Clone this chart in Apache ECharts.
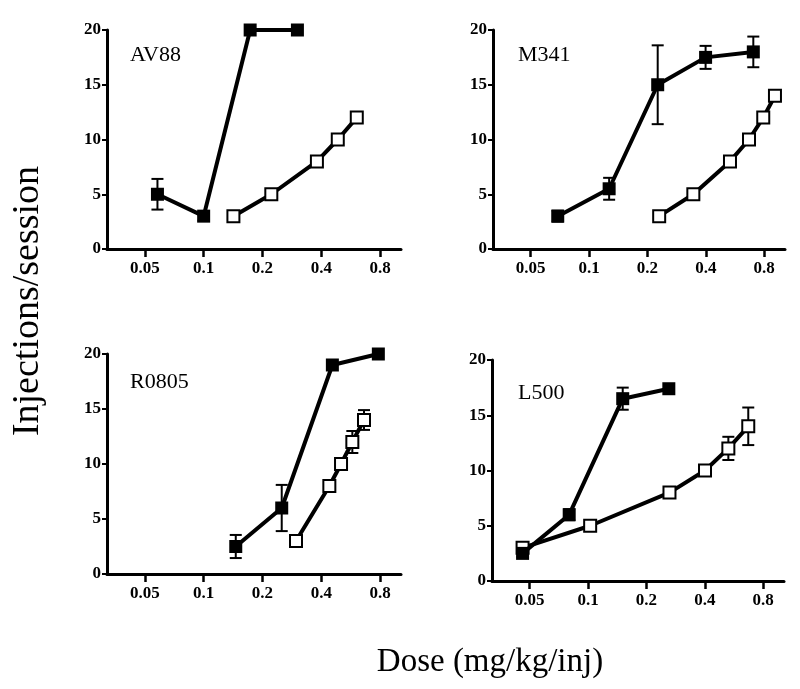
<!DOCTYPE html>
<html>
<head>
<meta charset="utf-8">
<script src="https://cdn.jsdelivr.net/npm/echarts@6/dist/echarts.min.js"></script>
<style>html,body{margin:0;padding:0;background:#fff}#c{width:800px;height:689px}</style>
</head>
<body>
<div id="c"></div>
<script>
// ---- data (dose in mg/kg/inj, injections/session, SEM) ----
const doseTicks = [0.05, 0.1, 0.2, 0.4, 0.8];
const injTicksMax = 20;

const av88FilledDose = [0.058, 0.1, 0.173, 0.302];
const av88FilledInj  = [5, 3, 20, 20];
const av88FilledSem  = [1.4, 0.4, 0, 0];
const av88OpenDose   = [0.142, 0.222, 0.38, 0.486, 0.608];
const av88OpenInj    = [3, 5, 8, 10, 12];
const av88OpenSem    = [0, 0, 0, 0, 0];

const m341FilledDose = [0.069, 0.127, 0.226, 0.399, 0.703];
const m341FilledInj  = [3, 5.5, 15, 17.5, 18];
const m341FilledSem  = [0.5, 1.0, 3.6, 1.05, 1.4];
const m341OpenDose   = [0.23, 0.345, 0.533, 0.668, 0.791, 0.909];
const m341OpenInj    = [3, 5, 8, 10, 12, 14];
const m341OpenSem    = [0, 0, 0, 0, 0, 0];

const r0805FilledDose = [0.146, 0.251, 0.456, 0.784];
const r0805FilledInj  = [2.5, 6, 19, 20];
const r0805FilledSem  = [1.05, 2.1, 0, 0];
const r0805OpenDose   = [0.297, 0.44, 0.505, 0.577, 0.662];
const r0805OpenInj    = [3, 8, 10, 12, 14];
const r0805OpenSem    = [0, 0, 0, 1.0, 0.9];

const l500FilledDose = [0.046, 0.080, 0.151, 0.261];
const l500FilledInj  = [2.5, 6, 16.5, 17.4];
const l500FilledSem  = [0.3, 0.5, 1.0, 0];
const l500OpenDose   = [0.046, 0.1026, 0.263, 0.401, 0.529, 0.670];
const l500OpenInj    = [3, 5, 8, 10, 12, 14];
const l500OpenSem    = [0, 0, 0.4, 0.5, 1.05, 1.7];

const panelNames = ['AV88', 'M341', 'R0805', 'L500'];

// ---- layout ----
const FONT = 'Liberation Serif, Times New Roman, serif';
const grids = [
  {left: 107, top: 30, width: 294, height: 219},
  {left: 493, top: 30, width: 292, height: 219},
  {left: 107, top: 354, width: 294, height: 220},
  {left: 492, top: 360, width: 292, height: 221}
];
const labelPos = [[130, 44], [518, 44], [130, 371], [518, 382]];

const panels = [
  {fd: av88FilledDose, fi: av88FilledInj, fs: av88FilledSem, od: av88OpenDose, oi: av88OpenInj, os: av88OpenSem},
  {fd: m341FilledDose, fi: m341FilledInj, fs: m341FilledSem, od: m341OpenDose, oi: m341OpenInj, os: m341OpenSem},
  {fd: r0805FilledDose, fi: r0805FilledInj, fs: r0805FilledSem, od: r0805OpenDose, oi: r0805OpenInj, os: r0805OpenSem},
  {fd: l500FilledDose, fi: l500FilledInj, fs: l500FilledSem, od: l500OpenDose, oi: l500OpenInj, os: l500OpenSem}
];

function zip(a, b) { return a.map((v, i) => [v, b[i]]); }
function zip3(a, b, c) { return a.map((v, i) => [v, b[i], c[i]]); }

function errRender(params, api) {
  const x = api.value(0), y = api.value(1), e = api.value(2);
  if (!e) return null;
  const top = api.coord([x, y + e]);
  const bot = api.coord([x, y - e]);
  const hw = 6;
  const st = {stroke: '#000', lineWidth: 2};
  return {type: 'group', children: [
    {type: 'line', shape: {x1: top[0], y1: top[1], x2: bot[0], y2: bot[1]}, style: st},
    {type: 'line', shape: {x1: top[0] - hw, y1: top[1], x2: top[0] + hw, y2: top[1]}, style: st},
    {type: 'line', shape: {x1: bot[0] - hw, y1: bot[1], x2: bot[0] + hw, y2: bot[1]}, style: st}
  ]};
}

const xAxes = [], yAxes = [], series = [], graphics = [];
panels.forEach((p, i) => {
  xAxes.push({
    type: 'log', logBase: 10, gridIndex: i, min: 0.032, max: 1.024,
    axisLine: {show: true, lineStyle: {color: '#000', width: 3}},
    axisTick: {show: true, customValues: doseTicks, length: 8, inside: false, lineStyle: {color: '#000', width: 2.5}},
    axisLabel: {customValues: doseTicks, margin: 11, color: '#000', fontFamily: FONT, fontWeight: 'bold', fontSize: 17,
      formatter: v => String(parseFloat(Number(v).toPrecision(3)))},
    splitLine: {show: false}, minorTick: {show: false}
  });
  yAxes.push({
    type: 'value', gridIndex: i, min: 0, max: injTicksMax, interval: 5,
    axisLine: {show: true, onZero: false, lineStyle: {color: '#000', width: 3}},
    axisTick: {show: true, length: 5, lineStyle: {color: '#000', width: 2}},
    axisLabel: {margin: 6, color: '#000', fontFamily: FONT, fontWeight: 'bold', fontSize: 17},
    splitLine: {show: false}
  });
  series.push({
    type: 'custom', xAxisIndex: i, yAxisIndex: i, z: 1, renderItem: errRender,
    data: zip3(p.fd, p.fi, p.fs), clip: false, silent: true
  });
  series.push({
    type: 'custom', xAxisIndex: i, yAxisIndex: i, z: 1, renderItem: errRender,
    data: zip3(p.od, p.oi, p.os), clip: false, silent: true
  });
  series.push({
    type: 'line', xAxisIndex: i, yAxisIndex: i, z: 3, clip: false,
    data: zip(p.od, p.oi), symbol: 'rect', symbolSize: 12,
    lineStyle: {color: '#000', width: 4},
    itemStyle: {color: '#fff', borderColor: '#000', borderWidth: 2},
    animation: false
  });
  series.push({
    type: 'line', xAxisIndex: i, yAxisIndex: i, z: 4, clip: false,
    data: zip(p.fd, p.fi), symbol: 'rect', symbolSize: 13,
    lineStyle: {color: '#000', width: 4},
    itemStyle: {color: '#000', borderColor: '#000', borderWidth: 0},
    animation: false
  });
  graphics.push({
    type: 'text', x: labelPos[i][0], y: labelPos[i][1],
    style: {text: panelNames[i], font: '22px ' + FONT, fill: '#000', textVerticalAlign: 'top'}
  });
});

graphics.push({
  type: 'text', x: 28, y: 301, rotation: Math.PI / 2,
  style: {text: 'Injections/session', font: '38px ' + FONT, fill: '#000', textAlign: 'center', textVerticalAlign: 'middle'}
});
graphics.push({
  type: 'text', x: 490, y: 662,
  style: {text: 'Dose (mg/kg/inj)', font: '33px ' + FONT, fill: '#000', textAlign: 'center', textVerticalAlign: 'middle'}
});

const chart = echarts.init(document.getElementById('c'), null, {renderer: 'canvas'});
chart.setOption({
  animation: false,
  backgroundColor: '#fff',
  grid: grids,
  xAxis: xAxes,
  yAxis: yAxes,
  series: series,
  graphic: graphics
});
</script>
</body>
</html>
